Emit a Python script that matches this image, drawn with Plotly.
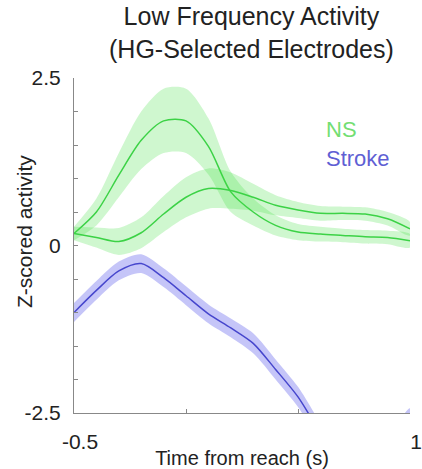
import plotly.graph_objects as go

time_s = [-0.5, -0.4, -0.3, -0.2, -0.1, 0.0, 0.1, 0.2, 0.3, 0.4, 0.5, 0.6, 0.7, 0.8, 0.9, 1.0]

ns_a_mean = [0.18, 0.5, 1.05, 1.57, 1.86, 1.86, 1.48, 0.8, 0.5, 0.3, 0.2, 0.17, 0.15, 0.13, 0.12, 0.07]
ns_a_err = [0.1, 0.2, 0.33, 0.43, 0.48, 0.48, 0.42, 0.3, 0.2, 0.15, 0.12, 0.11, 0.1, 0.1, 0.1, 0.1]

ns_b_mean = [0.18, 0.12, 0.06, 0.19, 0.47, 0.72, 0.85, 0.82, 0.72, 0.6, 0.53, 0.48, 0.48, 0.47, 0.4, 0.25]
ns_b_err = [0.1, 0.15, 0.2, 0.23, 0.27, 0.3, 0.3, 0.27, 0.2, 0.15, 0.12, 0.11, 0.1, 0.1, 0.1, 0.1]

stroke_mean = [-1.0, -0.67, -0.38, -0.27, -0.48, -0.75, -1.02, -1.23, -1.46, -1.85, -2.26, -2.8, -3.3, -3.35, -3.0, -2.58]
stroke_err = [0.14, 0.14, 0.14, 0.14, 0.14, 0.14, 0.14, 0.14, 0.15, 0.15, 0.15, 0.15, 0.15, 0.15, 0.15, 0.15]

y_tick_vals = [-2.5, -2.0, -1.5, -1.0, -0.5, 0.0, 0.5, 1.0, 1.5, 2.0, 2.5]
y_tick_text = ["-2.5", "", "", "", "", "0", "", "", "", "", "2.5"]
x_tick_vals = [-0.5, 0.0, 0.5, 1.0]
x_tick_text = ["-0.5", "", "", "1"]

FONT = "Liberation Sans, Arial, sans-serif"
GREEN_LINE = "rgb(60,210,70)"
GREEN_FILL = "rgba(70,225,70,0.26)"
BLUE_LINE = "rgb(70,70,205)"
BLUE_FILL = "rgba(95,95,235,0.36)"

fig = go.Figure()


def add_band(mean, err, line_color, fill_color):
    upper = [m + e for m, e in zip(mean, err)]
    lower = [m - e for m, e in zip(mean, err)]
    fig.add_trace(go.Scatter(
        x=time_s + time_s[::-1], y=upper + lower[::-1],
        fill="toself", fillcolor=fill_color, mode="lines",
        line=dict(width=0, shape="spline", smoothing=0.8), hoverinfo="skip", showlegend=False))
    fig.add_trace(go.Scatter(
        x=time_s, y=mean, mode="lines",
        line=dict(color=line_color, width=1.5, shape="spline", smoothing=0.8), showlegend=False))


add_band(ns_a_mean, ns_a_err, GREEN_LINE, GREEN_FILL)
add_band(ns_b_mean, ns_b_err, GREEN_LINE, GREEN_FILL)
add_band(stroke_mean, stroke_err, BLUE_LINE, BLUE_FILL)

fig.add_annotation(x=0.527, y=1.137, xref="paper", yref="paper",
                   text="Low Frequency Activity<br>(HG-Selected Electrodes)", showarrow=False,
                   xanchor="center", yanchor="middle",
                   font=dict(size=25, color="#222", family=FONT))
fig.add_annotation(x=-0.149, y=0.543, xref="paper", yref="paper",
                   text="Z-scored activity", showarrow=False, textangle=-90,
                   xanchor="center", yanchor="middle",
                   font=dict(size=21, color="#222", family=FONT))
fig.add_annotation(x=0.744, y=0.845, xref="paper", yref="paper", text="NS", showarrow=False,
                   xanchor="left", yanchor="middle", font=dict(size=22, color="rgb(115,222,115)", family=FONT))
fig.add_annotation(x=0.744, y=0.761, xref="paper", yref="paper", text="Stroke", showarrow=False,
                   xanchor="left", yanchor="middle", font=dict(size=22, color="rgb(95,95,212)", family=FONT))

fig.update_layout(
    width=422, height=469,
    margin=dict(l=74, r=12, t=78, b=56),
    paper_bgcolor="white", plot_bgcolor="white",
    font=dict(family=FONT, color="black"),
    xaxis=dict(range=[-0.5, 1.0], tickvals=x_tick_vals, ticktext=x_tick_text,
               ticks="inside", ticklen=4, tickcolor="#888", showline=True, linecolor="#888",
               linewidth=1, showgrid=False, zeroline=False, tickfont=dict(size=21, color="#222"),
               ticklabelstandoff=10, ticklabelshift=6, automargin=False,
               title=dict(text="Time from reach (s)", font=dict(size=20, color="#222"), standoff=2)),
    yaxis=dict(range=[-2.5, 2.5], tickvals=y_tick_vals, ticktext=y_tick_text,
               ticks="inside", ticklen=4, tickcolor="#888", showline=True, linecolor="#888",
               linewidth=1, showgrid=False, zeroline=False, tickfont=dict(size=21, color="#222"),
               ticklabelstandoff=8, automargin=False),
)

fig.write_html("out.html", config={"displayModeBar": False},
               post_script="document.body.style.margin='0';")
